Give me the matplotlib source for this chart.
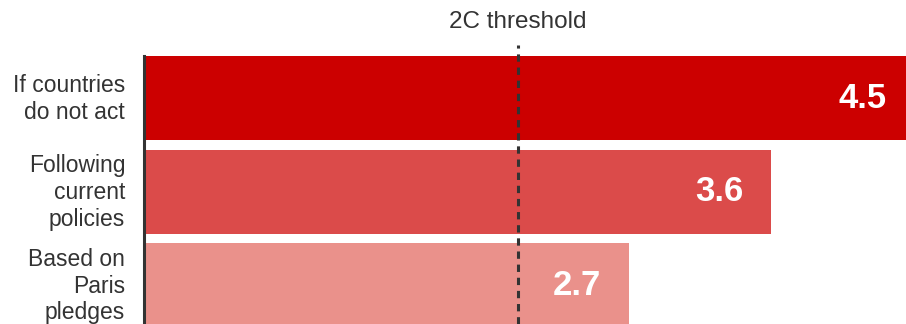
import matplotlib.pyplot as plt
from matplotlib import transforms

# projected warming by 2100, degrees C
scenarios = ['If countries\ndo not act', 'Following\ncurrent\npolicies', 'Based on\nParis\npledges']
warming = [4.5, 3.6, 2.7]
colors = ['#CC0000', '#DB4B4A', '#EA918B']
threshold = 2.0
threshold_label = '2C threshold'

plt.rcParams['font.family'] = ['Liberation Sans', 'DejaVu Sans']

fig = plt.figure(figsize=(9.06, 3.24), dpi=100)
ax = fig.add_axes([144 / 906, 0, 1 - 144 / 906, 1 - 56 / 324])

x_min, x_max = -0.36, 4.45
ypos = range(len(scenarios))
ax.barh(ypos, [v - x_min for v in warming], left=x_min, height=0.9,
        color=colors, zorder=2)

for y, v in zip(ypos, warming):
    ax.annotate(f'{v:.1f}', xy=(v, y), xytext=(-20, 0), textcoords='offset points',
                ha='right', va='center', color='white', fontsize=25,
                fontweight='bold', zorder=4, annotation_clip=False)

ax.set_xlim(x_min, x_max)
ax.set_ylim(2.416, -0.45)

# category names to the left of the baseline
for y, name in zip(ypos, scenarios):
    ax.annotate(name, xy=(0, y), xycoords=('axes fraction', 'data'),
                xytext=(-13.5, -0.7), textcoords='offset points',
                ha='right', va='center', fontsize=16.5, color='#333333',
                linespacing=1.2, annotation_clip=False)

# threshold marker runs a little above the bars
trans = transforms.blended_transform_factory(ax.transData, ax.transAxes)
ax.plot([threshold, threshold], [0, 1 + 11 / 268], transform=trans,
        color='#333333', lw=2.2, ls=(0, (2.4, 1.9)), clip_on=False, zorder=3)
ax.text(threshold, 1 + 34 / 268, threshold_label, transform=trans,
        ha='center', va='center', fontsize=17.5, color='#333333')

ax.set_xticks([])
ax.set_yticks([])

for side in ['top', 'right', 'bottom']:
    ax.spines[side].set_visible(False)
ax.spines['left'].set_color('#333333')
ax.spines['left'].set_linewidth(2.2)
ax.spines['left'].set_zorder(5)

fig.savefig('out.png', dpi=100)
